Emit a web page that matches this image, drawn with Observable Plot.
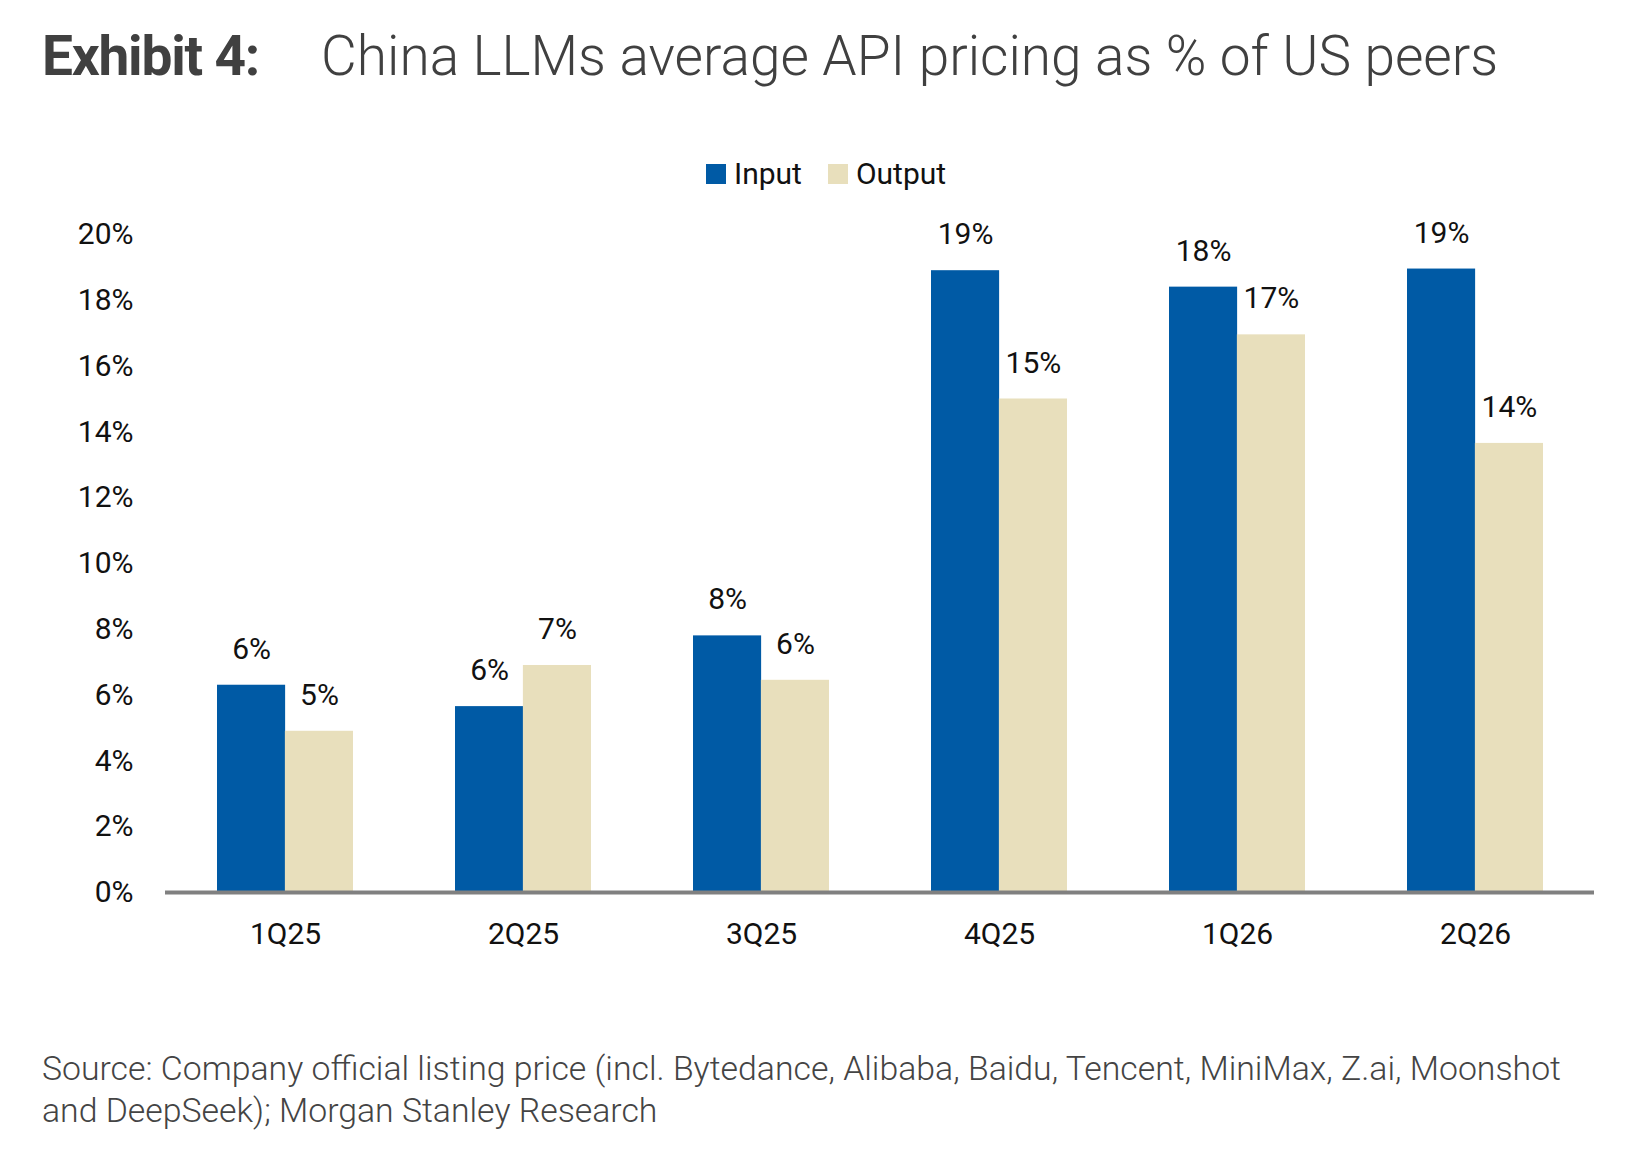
<!DOCTYPE html>
<html>
<head>
<meta charset="utf-8">
<script src="https://cdn.jsdelivr.net/npm/d3@7"></script>
<script src="https://cdn.jsdelivr.net/npm/@observablehq/plot@0.6"></script>
<style>
  html, body { margin: 0; padding: 0; background: #fff; }
  body { width: 1645px; height: 1150px; position: relative; overflow: hidden; font-family: Roboto, "Liberation Sans", sans-serif; }
  #title { position: absolute; left: 42px; top: 29px; font-size: 55px; line-height: 55px; color: #404040; white-space: nowrap; }
  #title .ex { font-weight: 700; letter-spacing: -1.2px; }
  #title .main { font-weight: 300; margin-left: 62px; }
  #legend { position: absolute; left: 706px; top: 159px; display: flex; align-items: center; font-size: 30px; line-height: 30px; color: #111; }
  #legend .item { display: flex; align-items: center; margin-right: 26px; }
  #legend .sw { width: 20px; height: 20px; margin-right: 8px; }
  #chart { position: absolute; left: 0; top: 200px; }
  #caption { position: absolute; left: 42px; top: 1048px; font-size: 33.8px; line-height: 42px; font-weight: 300; color: #444; white-space: nowrap; }
</style>
</head>
<body>
<div id="title"><span class="ex">Exhibit 4:</span><span class="main">China LLMs average API pricing as % of US peers</span></div>
<div id="legend"></div>
<div id="chart"></div>
<div id="caption">Source: Company official listing price (incl. Bytedance, Alibaba, Baidu, Tencent, MiniMax, Z.ai, Moonshot<br>and DeepSeek); Morgan Stanley Research</div>
<script>
const categories = ["1Q25", "2Q25", "3Q25", "4Q25", "1Q26", "2Q26"];
const inputValues = [6.3, 5.65, 7.8, 18.9, 18.4, 18.95];
const outputValues = [4.9, 6.9, 6.45, 15.0, 16.95, 13.65];
const seriesNames = ["Input", "Output"];
const seriesColors = ["#005AA5", "#E8DFBC"];
const yTicks = [0, 2, 4, 6, 8, 10, 12, 14, 16, 18, 20];

const inputRows = categories.map((c, i) => ({category: c, series: seriesNames[0], value: inputValues[i]}));
const outputRows = categories.map((c, i) => ({category: c, series: seriesNames[1], value: outputValues[i]}));

// legend
const legend = document.getElementById("legend");
seriesNames.forEach((s, i) => {
  const item = document.createElement("div");
  item.className = "item";
  const sw = document.createElement("div");
  sw.className = "sw";
  sw.style.background = seriesColors[i];
  const t = document.createElement("span");
  t.textContent = s;
  item.appendChild(sw); item.appendChild(t);
  legend.appendChild(item);
});

const W = 1645, H = 780, mL = 165, mR = 51, mT = 34, mB = 88;
const padIn = 0.43, padOut = 0.215;
// half of the band width, to split each category band into Input | Output
const half = d3.scaleBand().domain(categories).range([mL, W - mR]).paddingInner(padIn).paddingOuter(padOut).bandwidth() / 2;

const chart = Plot.plot({
  width: W,
  height: H,
  marginTop: mT,
  marginBottom: mB,
  marginLeft: mL,
  marginRight: mR,
  style: {fontFamily: "Roboto, sans-serif", fontSize: "30px", color: "#111", background: "transparent"},
  x: {domain: categories, paddingInner: padIn, paddingOuter: padOut, label: null},
  y: {domain: [0, 20], label: null},
  color: {domain: seriesNames, range: seriesColors},
  marks: [
    Plot.barY(inputRows, {x: "category", y: "value", fill: "series", insetRight: half}),
    Plot.barY(outputRows, {x: "category", y: "value", fill: "series", insetLeft: half}),
    Plot.text(inputRows, {x: "category", y: "value", text: d => `${Math.round(d.value)}%`, dx: -half / 2, dy: -36, fill: "#111"}),
    Plot.text(outputRows, {x: "category", y: "value", text: d => `${Math.round(d.value)}%`, dx: half / 2, dy: -36, fill: "#111"}),
    Plot.ruleY([0], {stroke: "#808080", strokeWidth: 4}),
    Plot.axisY({ticks: yTicks, tickSize: 0, tickPadding: 32, tickFormat: d => `${d}%`, label: null, fill: "#111"}),
    Plot.axisX({tickSize: 0, tickPadding: 30, label: null, fill: "#111"})
  ]
});
document.getElementById("chart").appendChild(chart);
</script>
</body>
</html>
